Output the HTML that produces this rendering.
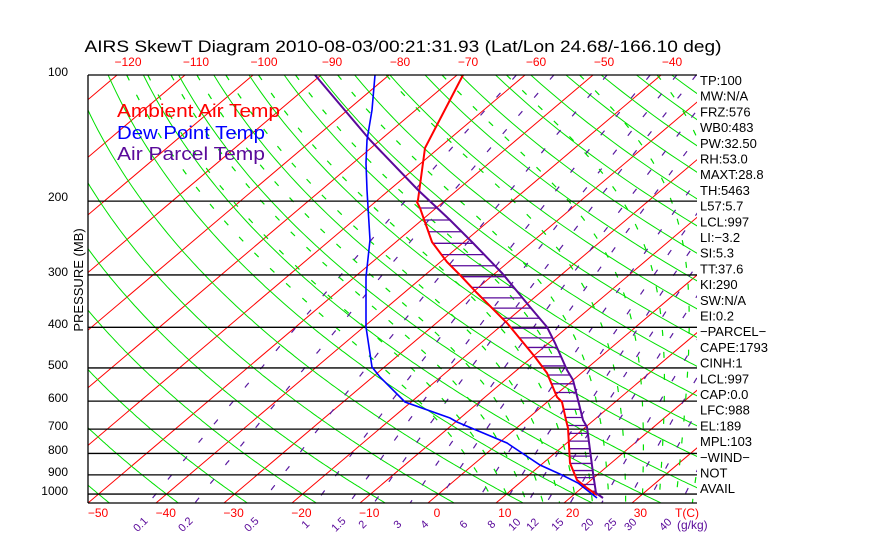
<!DOCTYPE html>
<html><head><meta charset="utf-8"><style>
html,body{margin:0;padding:0;background:#fff;}
svg{display:block;}
text{font-family:"Liberation Sans",sans-serif;}
</style></head><body>
<svg id="s" width="870" height="560" xmlns="http://www.w3.org/2000/svg">
<defs><clipPath id="c"><rect x="88" y="75" width="609" height="428"/></clipPath></defs>
<g id="grid" clip-path="url(#c)"></g>
<g id="snd" clip-path="url(#c)"></g>
<g id="frame" stroke="#000" stroke-width="1.3"></g>
<text x="403" y="52" font-size="17" text-anchor="middle" textLength="637" lengthAdjust="spacingAndGlyphs">AIRS SkewT Diagram 2010-08-03/00:21:31.93 (Lat/Lon 24.68/-166.10 deg)</text>
<g font-size="18">
<text x="117" y="117" fill="#ff0000" textLength="163" lengthAdjust="spacingAndGlyphs">Ambient Air Temp</text>
<text x="117" y="139" fill="#0000ff" textLength="148" lengthAdjust="spacingAndGlyphs">Dew Point Temp</text>
<text x="117" y="160" fill="#5a0a9a" textLength="148" lengthAdjust="spacingAndGlyphs">Air Parcel Temp</text>
</g>
<text transform="translate(83,280) rotate(-90)" font-size="13" text-anchor="middle">PRESSURE (MB)</text>
<g id="lab"></g>
</svg>
<script>
const NS="http://www.w3.org/2000/svg";
function el(par,tag,a,txt){const e=document.createElementNS(NS,tag);for(const k in a)e.setAttribute(k,a[k]);if(txt!==undefined)e.textContent=txt;par.appendChild(e);return e;}
const Y=p=>75+182*Math.log(p/100);
const S=1.18;
const X=(T,p)=>88+6.8*(T+50)+S*(503-Y(p));
const grid=document.getElementById('grid'),snd=document.getElementById('snd'),fr=document.getElementById('frame'),lab=document.getElementById('lab');
const ps=[];for(let p=100;p<=1060;p+=5)ps.push(p);
function line(fn,attrs){let d='';ps.forEach((p,i)=>{const T=fn(p);d+=(i?'L':'M')+X(T,p).toFixed(1)+' '+Y(p).toFixed(1);});el(grid,'path',Object.assign({d:d,fill:'none'},attrs));}
for(let T=-170;T<=60;T+=10){el(grid,'line',{x1:X(T,1060),y1:Y(1060),x2:X(T,95),y2:Y(95),stroke:'#ff0000','stroke-width':1});}
for(let th=-60;th<=250;th+=10){line(p=>(th+273.15)*Math.pow(p/1000,0.2857)-273.15,{stroke:'#00e000','stroke-width':1});}
const ws=[0.1,0.2,0.5,1,1.5,2,3,4,6,8,10,12,15,20,25,30,40];
ws.forEach(w=>{line(p=>{const e=w*p/(622+w);const l=Math.log(e/6.112);return 243.5*l/(17.67-l);},{stroke:'#5a1aa0','stroke-width':1.2,'stroke-dasharray':'6 18'});});
function es(T){return 6.112*Math.exp(17.67*T/(T+243.5));}
function dTdp(T,p){const Tk=T+273.15,e=es(T),r=0.622*e/(p-e),Rd=287,cp=1004,L=2.5e6;return (Rd*Tk+L*r)/(p*(cp+L*L*r*0.622/(Rd*Tk*Tk)));}
for(let tw=7.5;tw<=40;tw+=2.5){
  const pts={};let T=tw;pts[1000]=T;
  for(let p=1000;p>100;p-=5){for(let k=0;k<5;k++){T-=dTdp(T,p-k)*1;}pts[p-5]=T;}
  T=tw;for(let p=1000;p<1060;p+=5){for(let k=0;k<5;k++){T+=dTdp(T,p+k)*1;}pts[p+5]=T;}
  line(p=>pts[p],{stroke:'#00e000','stroke-width':1.2,'stroke-dasharray':'6 16'});
}
[200,300,400,500,600,700,800,900,1000].forEach(p=>el(grid,'line',{x1:88,x2:697,y1:Y(p),y2:Y(p),stroke:'#000','stroke-width':1.3}));
el(fr,'line',{x1:88,y1:75,x2:697,y2:75});el(fr,'line',{x1:88,y1:503,x2:697,y2:503});el(fr,'line',{x1:88,y1:75,x2:88,y2:503});
const red=[[463,75],[425,148],[418,200],[417,202],[420,208],[432,242],[447,262],[460,275],[477,293],[507,323],[535,357],[547,373],[557,397],[562,402],[566,420],[568,428],[570,463],[577,480],[587,488],[597,495]];
const pur=[[315,75],[370,140],[418,190],[450,220],[473,243],[502,273],[530,307],[547,327],[555,343],[567,370],[573,380],[583,420],[587,427],[593,473],[596,493],[603,498]];
const blu=[[375,75],[372,110],[367,140],[366,163],[367,190],[368,207],[370,240],[366,277],[366,327],[372,367],[380,377],[405,402],[450,418],[457,422],[507,443],[540,465],[562,475],[578,483],[597,498]];
function ix(arr,y){for(let i=0;i<arr.length-1;i++){const a=arr[i],b=arr[i+1];if(y>=a[1]&&y<=b[1]){const t=(y-a[1])/((b[1]-a[1])||1);return a[0]+t*(b[0]-a[0]);}}return null;}
let y=208;while(y<496){const a=ix(red,y),b=ix(pur,y);if(a!==null&&b!==null)el(snd,'line',{x1:a,x2:b,y1:y,y2:y,stroke:'#5a0a9a','stroke-width':1.3});y+=12-5.5*(y-208)/290;}
const pl=(arr,c,w)=>el(snd,'polyline',{points:arr.map(p=>p.join(',')).join(' '),fill:'none',stroke:c,'stroke-width':w});
pl(red,'#ff0000',2);pl(pur,'#5a0a9a',2);pl(blu,'#0000ff',1.6);
[[100,76],[200,201],[300,276],[400,328],[500,369],[600,402],[700,430],[800,454],[900,476],[1000,495]].forEach(a=>el(lab,'text',{x:68,y:a[1],'font-size':12,'text-anchor':'end'},a[0]));
for(let i=0;i<9;i++)el(lab,'text',{x:128+68*i,y:66,'font-size':12,fill:'#ff0000','text-anchor':'middle'},String(-120+10*i).replace('-','\u2212'));
for(let i=0;i<9;i++)el(lab,'text',{x:98+67.8*i,y:517,'font-size':12,fill:'#ff0000','text-anchor':'middle'},String(-50+10*i).replace('-','\u2212'));
el(lab,'text',{x:687,y:517,'font-size':12,fill:'#ff0000','text-anchor':'middle'},'T(C)');
[[0.1,143],[0.2,188],[0.5,254],[1,308],[1.5,341],[2,365],[3,400],[4,427],[6,466],[8,494],[10,517],[12,535],[15,560],[20,590],[25,613],[30,633],[40,668]].forEach(a=>el(lab,'text',{transform:`translate(${a[1]},527) rotate(-45)`,'font-size':11,fill:'#5a0a9a','text-anchor':'middle'},String(a[0])));
el(lab,'text',{x:677,y:529,'font-size':12,fill:'#5a0a9a'},'(g/kg)');
const R=['TP:100','MW:N/A','FRZ:576','WB0:483','PW:32.50','RH:53.0','MAXT:28.8','TH:5463','L57:5.7','LCL:997','LI:\u22123.2','SI:5.3','TT:37.6','KI:290','SW:N/A','EI:0.2','\u2212PARCEL\u2212','CAPE:1793','CINH:1','LCL:997','CAP:0.0','LFC:988','EL:189','MPL:103','\u2212WIND\u2212',' NOT','AVAIL'];
R.forEach((t,i)=>el(lab,'text',{x:700,y:85+15.7*i,'font-size':13},t));
</script>
</body></html>
